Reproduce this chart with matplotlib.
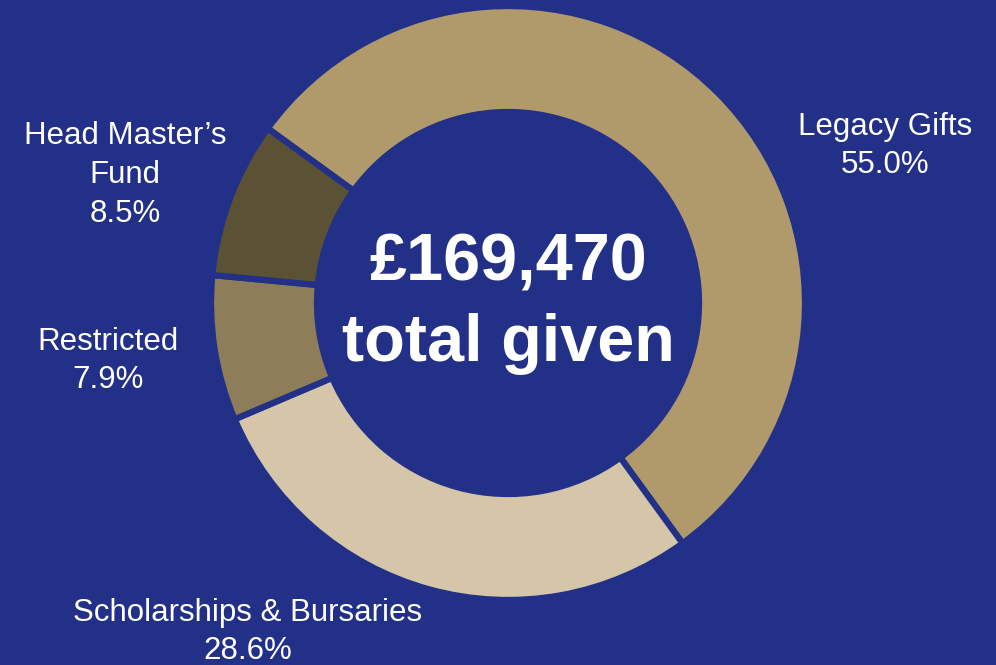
import matplotlib.pyplot as plt

# --- data ---
categories = ["Legacy Gifts", "Scholarships & Bursaries", "Restricted", "Head Master\u2019s\nFund"]
shares = [55.0, 28.6, 7.9, 8.5]
colors = ["#B09A6C", "#D5C5A9", "#8D7D59", "#5B5135"]
total_label = "\u00a3169,470\ntotal given"

bg = "#233087"
plt.rcParams['font.family'] = ['Liberation Sans', 'DejaVu Sans']

fig = plt.figure(figsize=(9.96, 6.65), dpi=100, facecolor=bg)
ax = fig.add_axes([0, 0, 1, 1])
ax.set_facecolor(bg)

cx, cy = 508, 665 - 303
R = 297
ax.pie(shares, colors=colors, startangle=144, counterclock=False,
       center=(cx, cy), radius=R, frame=True,
       wedgeprops=dict(width=106, edgecolor=bg, linewidth=4.5))
ax.set_xlim(0, 996)
ax.set_ylim(0, 665)
ax.set_aspect('equal')
ax.axis('off')

# label positions (pixel coords, y from top)
label_pos = [(885, 146), (248, 632), (108, 361), (125, 175)]
for name, val, (lx, ly) in zip(categories, shares, label_pos):
    ax.text(lx, 665 - ly, f"{name}\n{val:.1f}%", color="white", fontsize=22.5,
            ha="center", va="center", linespacing=1.38)

ax.text(cx, 665 - 304, total_label, color="white", fontsize=48, fontweight="bold",
        ha="center", va="center", linespacing=1.38)

fig.savefig("out.png", dpi=100, facecolor=bg)
